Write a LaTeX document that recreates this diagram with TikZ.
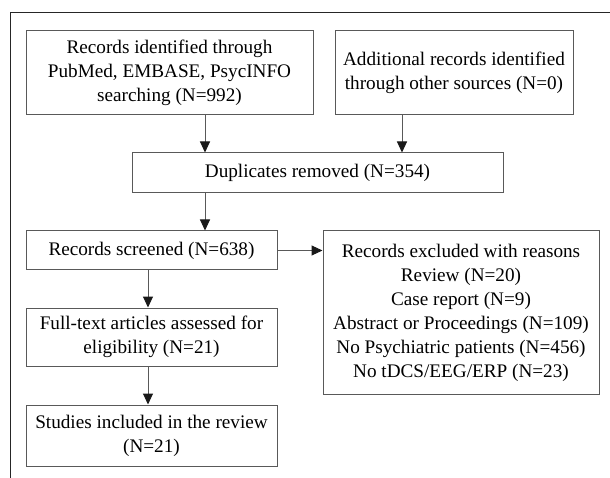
\documentclass[tikz,border=0pt]{standalone}
\usepackage{fontspec}
\setmainfont{Liberation Serif}
\usetikzlibrary{arrows.meta}
\tikzset{
  box/.style={draw=black!65,line width=1pt,inner sep=0pt,align=center,
    font=\fontsize{19.2}{24}\selectfont},
  arr/.style={draw=black!65,line width=1pt,-{Triangle[length=11pt,width=10pt,color=black!90]}}
}
\begin{document}
\begin{tikzpicture}[x=1pt,y=-1pt]
\useasboundingbox (0,0) rectangle (610,478);
\draw[black!85,line width=1pt] (10.5,478) -- (10.5,13) -- (610,13);
\node[box,minimum width=287pt,minimum height=84pt] (search) at (169.5,73) {Records identified through\\PubMed, EMBASE, PsycINFO\\searching (N=992)};
\node[box,minimum width=238pt,minimum height=84pt] (other) at (454,73) {Additional records identified\\through other sources (N=0)};
\node[box,minimum width=371pt,minimum height=40pt] (dup) at (317.5,173) {Duplicates removed (N=354)};
\node[box,minimum width=251pt,minimum height=39pt] (screen) at (151.5,250.5) {Records screened (N=638)};
\node[box,minimum width=276pt,minimum height=163pt] (excl) at (461,312.5) {Records excluded with reasons\\Review (N=20)\\Case report (N=9)\\Abstract or Proceedings (N=109)\\No Psychiatric patients (N=456)\\No tDCS/EEG/ERP (N=23)};
\node[box,minimum width=251pt,minimum height=58pt] (full) at (151.5,337) {Full-text articles assessed for\\eligibility (N=21)};
\node[box,minimum width=251pt,minimum height=61pt] (incl) at (151.5,435.5) {Studies included in the review\\(N=21)};
\coordinate (colA) at (205,0);
\coordinate (colB) at (402,0);
\coordinate (colC) at (148,0);
\draw[arr] (search.south -| colA) -- (dup.north -| colA);
\draw[arr] (other.south -| colB) -- (dup.north -| colB);
\draw[arr] (dup.south -| colA) -- (screen.north -| colA);
\draw[arr] (screen.east) -- (screen.east -| excl.west);
\draw[arr] (screen.south -| colC) -- (full.north -| colC);
\draw[arr] (full.south -| colC) -- (incl.north -| colC);
\end{tikzpicture}
\end{document}
